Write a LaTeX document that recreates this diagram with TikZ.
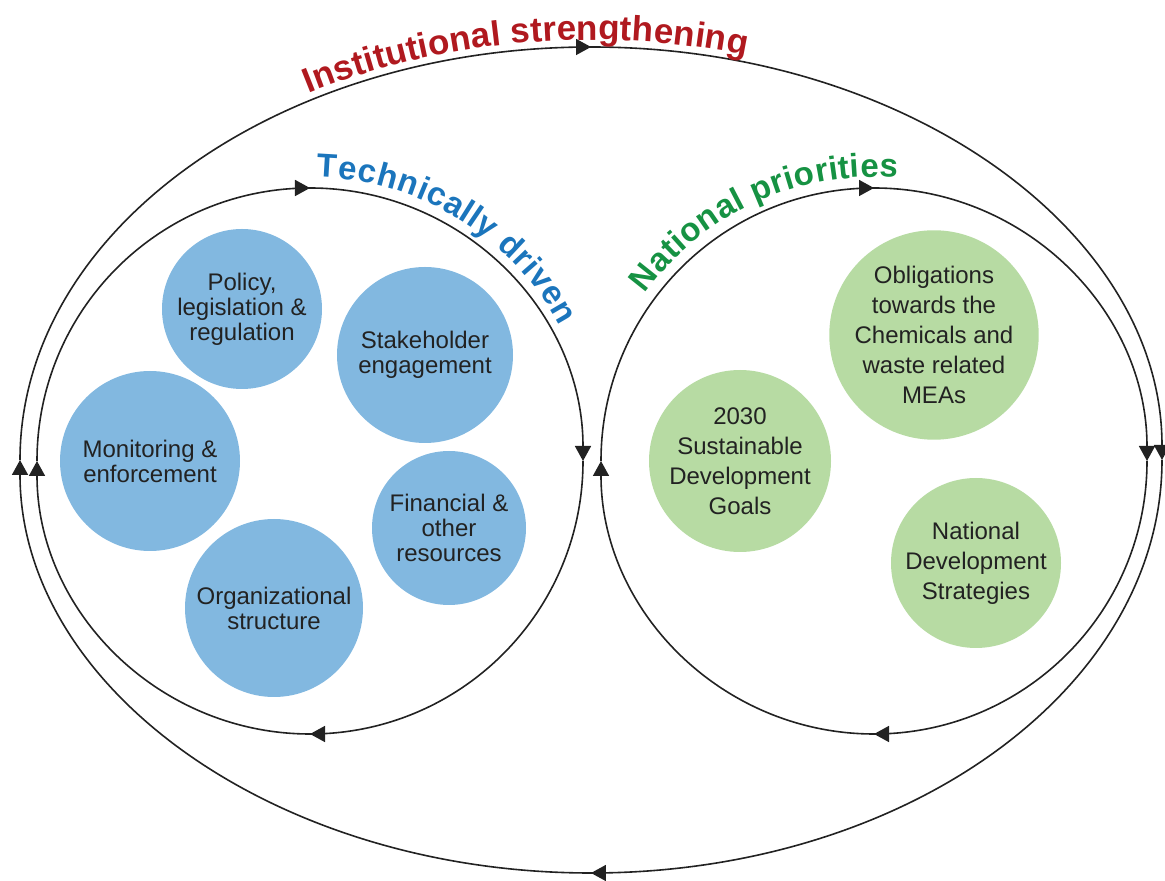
\documentclass[tikz,border=0pt]{standalone}
\usepackage{fontspec}
\setmainfont{Liberation Sans}
\usetikzlibrary{arrows.meta,decorations.markings,decorations.text}
\definecolor{inkc}{HTML}{222222}
\definecolor{instred}{HTML}{B0191F}
\definecolor{techblue}{HTML}{1B75BC}
\definecolor{natgreen}{HTML}{169243}
\definecolor{bluefill}{HTML}{82B8E0}
\definecolor{greenfill}{HTML}{B7DBA3}
\newcommand\instfont{\bfseries\fontsize{35}{40}\selectfont\color{instred}}
\newcommand\techfont{\bfseries\fontsize{33}{38}\selectfont\color{techblue}}
\newcommand\natfont{\bfseries\fontsize{33}{38}\selectfont\color{natgreen}}
\begin{document}
\begin{tikzpicture}[x=1pt,y=1pt,
  loopline/.style={draw=inkc, line width=1.6pt},
  midarrow/.style={decoration={markings, mark=at position 0.5 with {\arrow{Triangle[length=15pt,width=16pt]}}}, postaction={decorate}},
  endarrow/.style={-{Triangle[length=15pt,width=16pt]}},
  bluecirc/.style={circle, fill=bluefill, inner sep=0pt, text=inkc, align=center, font=\fontsize{24}{25}\selectfont},
  greencirc/.style={circle, fill=greenfill, inner sep=0pt, text=inkc, align=center, font=\fontsize{24}{30}\selectfont}
]
\useasboundingbox (0,0) rectangle (1165,881);
\coordinate (outerc) at (591,421);
\coordinate (techc) at (310,420);
\coordinate (natc) at (874,420);

% outer cycle
\draw[loopline, endarrow, midarrow] (outerc) ++(180:571pt and 413pt) arc[start angle=180, end angle=0, x radius=571pt, y radius=413pt];
\draw[loopline, endarrow, midarrow] (outerc) ++(0:571pt and 413pt) arc[start angle=0, end angle=-180, x radius=571pt, y radius=413pt];
% technically driven cycle
\draw[loopline, endarrow, midarrow] (techc) ++(180:273pt) arc[start angle=180, end angle=0, radius=273pt];
\draw[loopline, endarrow, midarrow] (techc) ++(0:273pt) arc[start angle=0, end angle=-180, radius=273pt];
% national priorities cycle
\draw[loopline, endarrow, midarrow] (natc) ++(180:273pt) arc[start angle=180, end angle=0, radius=273pt];
\draw[loopline, endarrow, midarrow] (natc) ++(0:273pt) arc[start angle=0, end angle=-180, radius=273pt];

% curved labels
\path[decorate, decoration={text along path, text align=center, raise=7pt, text={|\instfont|Institutional strengthening}}]
  (outerc) ++(140:571pt and 413pt) arc[start angle=140, end angle=55, x radius=571pt, y radius=413pt];
\path[decorate, decoration={text along path, text align=center, raise=11pt, text={|\techfont|Technically driven}}]
  (techc) ++(100:273pt) arc[start angle=100, end angle=17, radius=273pt];
\path[decorate, decoration={text along path, text align=center, raise=11pt, text={|\natfont|National priorities}}]
  (natc) ++(160:273pt) arc[start angle=160, end angle=69, radius=273pt];

% blue circles
\node[bluecirc, minimum size=160pt] (policy) at (242,572) {Policy,\\legislation \&\\regulation};
\node[bluecirc, minimum size=176pt] (stake) at (425,526) {Stakeholder\\engagement};
\node[bluecirc, minimum size=180pt] (monitor) at (150,420) {Monitoring \&\\enforcement};
\node[bluecirc, minimum size=154pt] (finance) at (449,353) {Financial \&\\other\\resources};
\node[bluecirc, minimum size=178pt] (org) at (274,273) {Organizational\\structure};

% green circles
\node[greencirc, minimum size=198pt] (oblig) at (934,546) {Obligations\\towards the\\Chemicals and\\waste related\\MEAs};
\node[greencirc, minimum size=182pt] (sdg) at (740,420) {2030\\Sustainable\\Development\\Goals};
\node[greencirc, minimum size=170pt] (nds) at (976,318) {National\\Development\\Strategies};
\end{tikzpicture}
\end{document}
